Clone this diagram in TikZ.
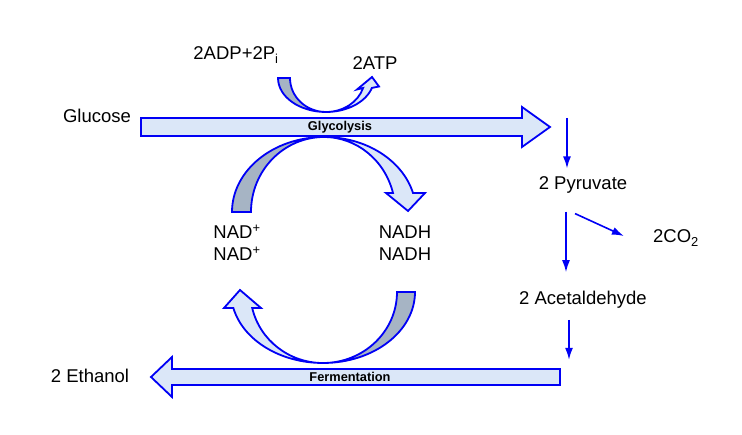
\documentclass[tikz,border=0pt]{standalone}
\usepackage{fontspec}
\setmainfont{Liberation Sans}
\usetikzlibrary{arrows.meta}

\definecolor{pale}{RGB}{219,231,248}
\definecolor{shade}{RGB}{166,180,196}
\definecolor{edge}{RGB}{0,0,245}

\begin{document}
\begin{tikzpicture}[x=1pt,y=1pt,
    txt/.style={font=\fontsize{18.5}{22}\selectfont,inner sep=0pt},
    tag/.style={font=\fontsize{12.8}{14}\selectfont\bfseries,inner sep=0pt},
    block/.style={draw=edge,line width=1.8pt,fill=pale},
    back/.style={draw=edge,line width=1.8pt,fill=shade},
    flow/.style={draw=edge,line width=1.6pt,-{Latex[length=12pt,width=8pt]}}]
    \useasboundingbox (0,0) rectangle (742,434);

    % main horizontal block arrows
    \draw[block] (141,298) -- (522,298) -- (522,287) -- (550,307) -- (522,327) -- (522,316) -- (141,316) -- cycle;
    \draw[block] (560,49) -- (172,49) -- (172,37) -- (151,57) -- (172,77) -- (172,65) -- (560,65) -- cycle;
    \node[tag] (gly) at (340,307) {Glycolysis};
    \node[tag] (fer) at (350,57) {Fermentation};

    % ATP curved arrow
    \draw[block] (326,322) arc[start angle=270,end angle=343,x radius=48,y radius=34]
        -- (379,347.5) -- (372,357) -- (357,344.5) -- (363.1,346)
        arc[start angle=-17.1,end angle=-90,x radius=38.8,y radius=34] -- cycle;
    \draw[back] (278,356) arc[start angle=180,end angle=270,x radius=48,y radius=34]
        arc[start angle=270,end angle=180,x radius=36,y radius=34] -- cycle;

    % NAD+ -> NADH
    \draw[block] (324,297) arc[start angle=90,end angle=14.7,x radius=92,y radius=75]
        -- (425,241) -- (408,223) -- (386,241) -- (393,241)
        arc[start angle=14.7,end angle=90,x radius=71.3,y radius=75] -- cycle;
    \draw[back] (232,222) arc[start angle=180,end angle=90,x radius=92,y radius=75]
        arc[start angle=90,end angle=180,x radius=73,y radius=75] -- cycle;

    % NADH -> NAD+
    \draw[block] (323,71) arc[start angle=270,end angle=193,x radius=92,y radius=71]
        -- (224,126) -- (240,144) -- (261,126) -- (252.2,126)
        arc[start angle=193,end angle=270,x radius=72.7,y radius=71] -- cycle;
    \draw[back] (415,142) arc[start angle=0,end angle=-90,x radius=92,y radius=71]
        arc[start angle=270,end angle=360,x radius=74,y radius=71] -- cycle;

    % labels
    \node[txt] (glc) at (97,318) {Glucose};
    \node[txt] (adp) at (236,379) {2ADP+2P\textsubscript{i}};
    \node[txt] (atp) at (375,371) {2ATP};
    \node[txt] (nad1) at (237,202) {NAD\textsuperscript{+}};
    \node[txt] (nad2) at (237,180) {NAD\textsuperscript{+}};
    \node[txt] (nadh1) at (405,202) {NADH};
    \node[txt] (nadh2) at (405,180) {NADH};
    \node[txt] (eth) at (90,58) {2 Ethanol};
    \node[txt] (pyr) at (583,249) {2 Pyruvate};
    \node[txt] (co2) at (676,196) {2CO\textsubscript{2}};
    \node[txt] (ald) at (583,134) {2 Acetaldehyde};

    % thin arrows
    \coordinate (gend) at (567,316);
    \draw[flow,shorten >=8pt] (gend) -- (gend |- pyr.north);
    \draw[flow,shorten <=18pt,shorten >=19pt] ([xshift=-17pt]pyr.south) -- ([xshift=-17pt]ald.north);
    \draw[flow] ([xshift=-8pt,yshift=-20pt]pyr.south) -- ([xshift=-29pt,yshift=2pt]co2.west);
    \draw[flow,shorten <=11pt] ([xshift=-14pt]ald.south) -- ++(0,-51);
\end{tikzpicture}
\end{document}
